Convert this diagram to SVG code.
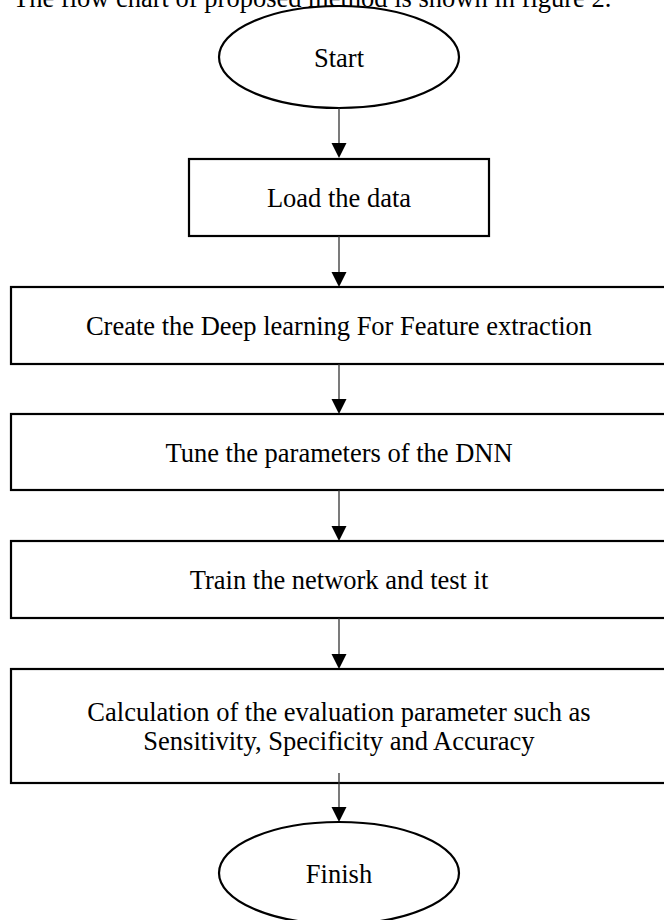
<svg xmlns="http://www.w3.org/2000/svg" width="664" height="920" viewBox="0 0 664 920">
<defs>
<style>
.t{font-family:"Liberation Serif","Times New Roman",serif;font-size:26.5px;fill:#000;text-anchor:middle}
.shape{fill:#fff;stroke:#000;stroke-width:2.2}
.conn{stroke:#333;stroke-width:1.3;fill:none}
.head{fill:#000}
</style>
</defs>
<rect width="664" height="920" fill="#fff"/>
<text class="t" x="13" y="7" style="text-anchor:start">The flow chart of proposed method is shown in figure 2.</text>
<g id="start">
<ellipse class="shape" cx="339" cy="57" rx="120" ry="51"/>
<text class="t" x="339" y="66.5">Start</text>
</g>
<g id="load">
<rect class="shape" x="189" y="159" width="300" height="77"/>
<text class="t" x="339" y="207">Load the data</text>
</g>
<g id="create">
<rect class="shape" x="11" y="287" width="660" height="77"/>
<text class="t" x="339" y="335">Create the Deep learning For Feature extraction</text>
</g>
<g id="tune">
<rect class="shape" x="11" y="414" width="660" height="76"/>
<text class="t" x="339" y="461.5">Tune the parameters of the DNN</text>
</g>
<g id="train">
<rect class="shape" x="11" y="541" width="660" height="77"/>
<text class="t" x="339" y="588.5">Train the network and test it</text>
</g>
<g id="calc">
<rect class="shape" x="11" y="669" width="660" height="114"/>
<text class="t" x="339" y="721">Calculation of the evaluation parameter such as</text>
<text class="t" x="339" y="750">Sensitivity, Specificity and Accuracy</text>
</g>
<g id="finish">
<ellipse class="shape" cx="339" cy="873" rx="120" ry="51"/>
<text class="t" x="339" y="883">Finish</text>
</g>
<g id="connectors">
<line class="conn" x1="339" y1="108" x2="339" y2="144"/>
<polygon class="head" points="331.5,143 346.5,143 339,158"/>
<line class="conn" x1="339" y1="236" x2="339" y2="273"/>
<polygon class="head" points="331.5,272 346.5,272 339,287"/>
<line class="conn" x1="339" y1="364" x2="339" y2="400"/>
<polygon class="head" points="331.5,399 346.5,399 339,414"/>
<line class="conn" x1="339" y1="490" x2="339" y2="527"/>
<polygon class="head" points="331.5,526 346.5,526 339,541"/>
<line class="conn" x1="339" y1="618" x2="339" y2="655"/>
<polygon class="head" points="331.5,654 346.5,654 339,669"/>
<line class="conn" x1="339" y1="773" x2="339" y2="808"/>
<polygon class="head" points="331.5,807 346.5,807 339,822"/>
</g>
</svg>
